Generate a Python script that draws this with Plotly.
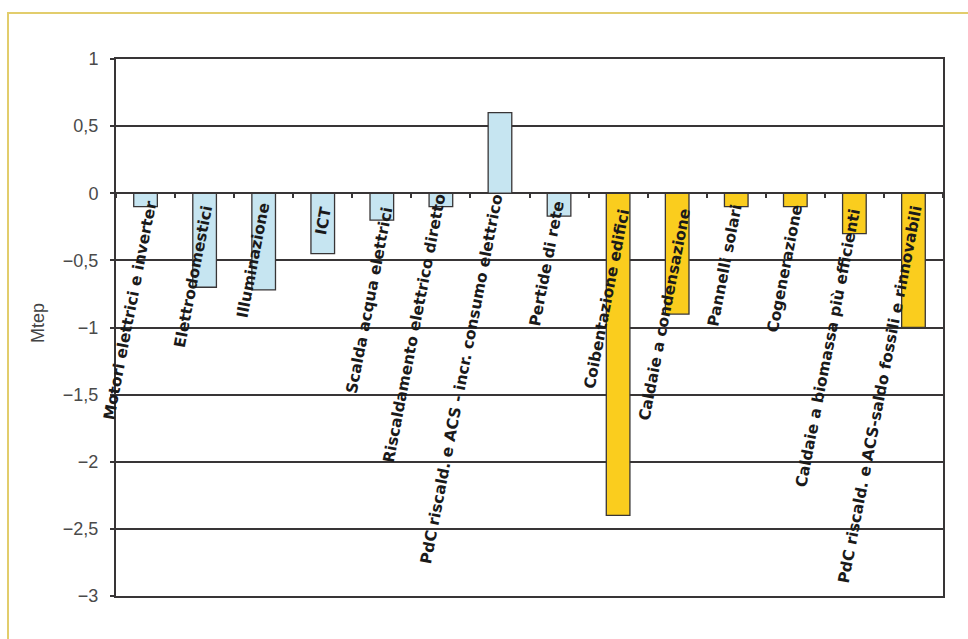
import plotly.graph_objects as go

# Savings / extra consumption per measure, Mtep
categories = [
    "Motori elettrici e inverter",
    "Elettrodomestici",
    "Illuminazione",
    "ICT",
    "Scalda acqua elettrici",
    "Riscaldamento elettrico diretto",
    "PdC riscald. e ACS - incr. consumo elettrico",
    "Pertide di rete",
    "Coibentazione edifici",
    "Caldaie a condensazione",
    "Pannelli solari",
    "Cogenerazione",
    "Caldaie a biomassa più efficienti",
    "PdC riscald. e ACS-saldo fossili e rinnovabili",
]
values = [-0.1, -0.7, -0.72, -0.45, -0.2, -0.1, 0.6, -0.17,
          -2.4, -0.9, -0.1, -0.1, -0.3, -1.0]
groups = ["elettrico"] * 8 + ["termico"] * 6

y_tickvals = [1, 0.5, 0, -0.5, -1, -1.5, -2, -2.5, -3]
y_ticktext = ["1", "0,5", "0", "\u22120,5", "\u22121", "\u22121,5",
              "\u22122", "\u22122,5", "\u22123"]

# styling
group_colors = {"elettrico": "#C6E5F1", "termico": "#FACD1E"}
line_col = "#383536"
W, H = 968, 639
M = dict(l=116, r=25, t=59, b=43)
pw = W - M["l"] - M["r"]
ph = H - M["t"] - M["b"]

# per-label placement (pixel offsets of the label centre from bar centre / zero line)
label_dx = [-15, -11, -10, 1, -12, -26, -38, -12, -11, -12, -11, -10, -26, -33]
label_dy = [-117, -84, -67, -28, -107, -135, -186, -71, -106, -121, -72, -75, -155, -201]

fig = go.Figure()
fig.add_trace(go.Bar(
    x=categories,
    y=values,
    marker=dict(color=[group_colors[g] for g in groups],
                line=dict(color=line_col, width=1.3)),
    width=0.4,
    showlegend=False,
    hoverinfo="x+y",
))
# helper trace carrying the boundary ticks along the zero line
fig.add_trace(go.Scatter(
    x=categories, y=values, mode="none", xaxis="x2",
    showlegend=False, hoverinfo="skip",
))

for i, name in enumerate(categories):
    fig.add_annotation(
        x=name, y=0, xref="x", yref="y",
        text=name, showarrow=False, textangle=-79,
        xanchor="center", yanchor="middle",
        xshift=label_dx[i], yshift=label_dy[i],
        font=dict(family="DejaVu Sans", size=15.5, color="#1a1a1a", weight="bold"),
    )

# axis title placed at a fixed pixel spot left of the tick labels
fig.add_annotation(
    x=(38 - M["l"]) / pw, y=(H - M["b"] - 323) / ph,
    xref="paper", yref="paper", text="Mtep", showarrow=False,
    xanchor="center", yanchor="middle",
    textangle=-90, font=dict(family="Liberation Sans", size=18, color="#444444"),
)

# outer frame of the figure box
fig.add_shape(
    type="rect", xref="paper", yref="paper",
    x0=(8 - M["l"]) / pw, x1=(W + 10 - M["l"]) / pw,
    y0=(H - M["b"] - (H + 10)) / ph, y1=(H - M["b"] - 13) / ph,
    line=dict(color="#E2CD6C", width=2), layer="below",
)

fig.update_layout(
    width=W, height=H, margin=M,
    paper_bgcolor="white", plot_bgcolor="white",
    separators=",.",
    bargap=0.6,
    xaxis=dict(
        type="category", categoryorder="array", categoryarray=categories,
        range=[-0.5, len(categories) - 0.5],
        showticklabels=False, ticks="", showgrid=False, zeroline=False,
        showline=True, mirror=True, linecolor=line_col, linewidth=2,
    ),
    xaxis2=dict(
        type="category", categoryorder="array", categoryarray=categories,
        range=[-0.5, len(categories) - 0.5],
        overlaying="x", anchor="free", position=0.75,
        tickson="boundaries", ticks="outside", ticklen=4, tickwidth=1.5,
        tickcolor=line_col, showticklabels=False, showgrid=False,
        showline=False, zeroline=False,
    ),
    yaxis=dict(
        range=[-3, 1], tickmode="array", tickvals=y_tickvals, ticktext=y_ticktext,
        showgrid=True, gridcolor=line_col, gridwidth=1.8,
        zeroline=True, zerolinecolor=line_col, zerolinewidth=1.8,
        showline=True, mirror=True, linecolor=line_col, linewidth=2,
        ticks="outside", ticklen=4, tickcolor=line_col, tickwidth=1.5,
        ticklabelstandoff=8,
    ),
)
fig.update_yaxes(tickfont=dict(family="Liberation Sans", size=18, color="#4a4a4a"))

fig.write_html("out.html")
